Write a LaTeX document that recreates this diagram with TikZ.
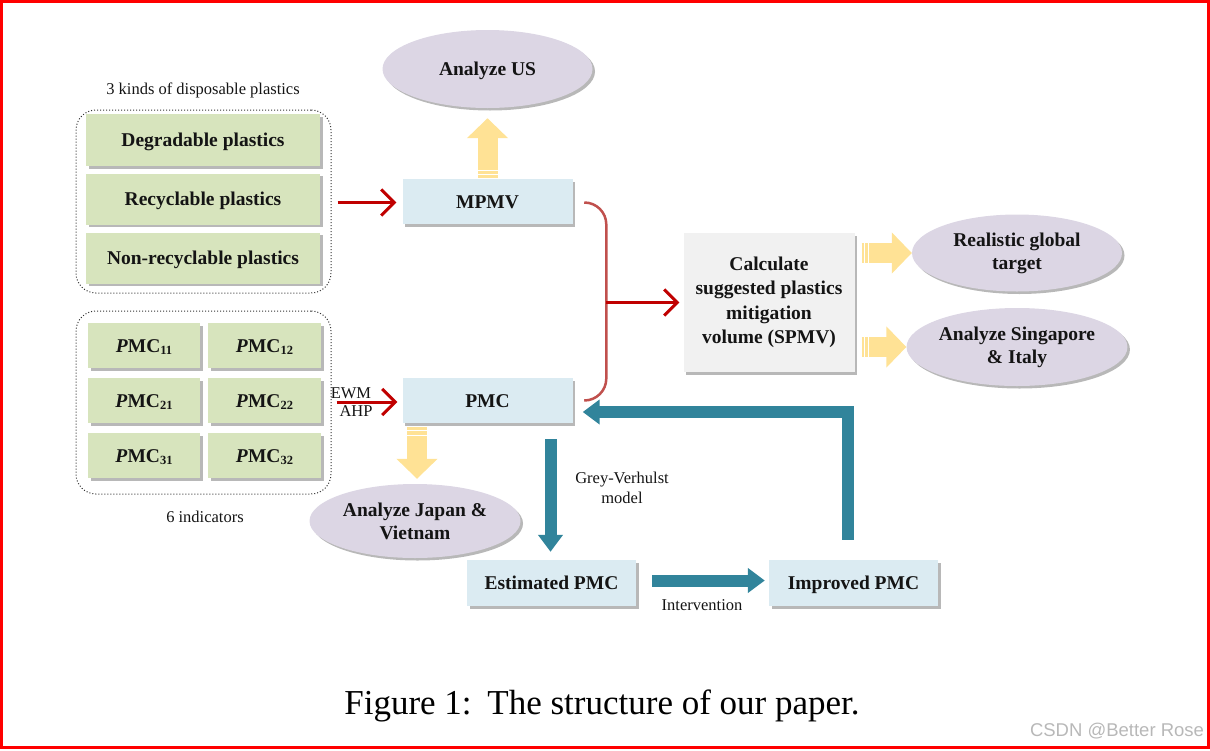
\documentclass[tikz,border=0pt]{standalone}
\usepackage{fontspec}
\setmainfont{Liberation Serif}
\newfontfamily\wmfont{Liberation Sans}
\usetikzlibrary{shapes.geometric,arrows.meta,shadows,calc}
\definecolor{cgreen}{HTML}{D7E4BD}
\definecolor{cblue}{HTML}{DBEBF2}
\definecolor{cgray}{HTML}{F1F1F1}
\definecolor{clav}{HTML}{DCD6E4}
\definecolor{cyel}{HTML}{FFE295}
\definecolor{cteal}{HTML}{31849B}
\definecolor{cdred}{HTML}{C00000}
\definecolor{cbrk}{HTML}{C0504D}
\definecolor{cframe}{HTML}{FF0000}
\newcommand{\pmclab}[1]{\textit{P}MC\raisebox{-0.3ex}{\fontsize{12.5}{12.5}\selectfont #1}}
\begin{document}
\begin{tikzpicture}[x=1pt,y=-1pt,
 every node/.style={text=black!92},
 bold/.style={font=\fontsize{19.5}{24.5}\selectfont\bfseries, align=center, inner sep=0pt},
 oneline/.style={text height=14pt, text depth=1pt},
 plain/.style={font=\fontsize{16.5}{20}\selectfont, align=center, inner sep=0pt},
 shd/.style={drop shadow={shadow xshift=2.5pt,shadow yshift=-2.5pt,fill=black,opacity=0.28}},
 gbox/.style={bold, oneline, shd, fill=cgreen},
 bbox/.style={bold, oneline, shd, fill=cblue, minimum width=170pt, minimum height=45pt},
 oval/.style={bold, font=\fontsize{19.5}{23}\selectfont\bfseries, shd, ellipse, fill=clav, minimum width=210pt, minimum height=78pt},
 frm/.style={draw=black!80, dotted, line width=1pt, rounded corners=20pt, minimum width=255pt, minimum height=183pt},
 yarrow/.style={draw=cyel, line width=20pt, -{Triangle[length=20pt,width=40pt]}},
 redarr/.style={draw=cdred, line width=3pt, -{Straight Barb[length=13pt,width=26pt]}},
 tealarr/.style={draw=cteal, line width=12pt, -{Triangle[length=17pt,width=24pt]}},
 stripe/.style={draw=white, line width=1.2pt}
]
\useasboundingbox (0,0) rectangle (1210,750);
\draw[cframe, line width=3pt] (1.5,1.5) rectangle (1208,747.5);

% left panels
\node[plain] (kindslab) at (203,90) {3 kinds of disposable plastics};
\node[frm] (kinds) at (203.5,201.5) {};
\node[gbox, minimum width=234pt, minimum height=52pt] (deg) at (203,140) {Degradable plastics};
\node[gbox, minimum width=234pt, minimum height=51pt] (rec) at (203,199) {Recyclable plastics};
\node[gbox, minimum width=234pt, minimum height=51pt] (non) at (203,258) {Non-recyclable plastics};

\node[frm] (ind) at (203.5,402.5) {};
\node[gbox, minimum width=112pt, minimum height=45pt] (p11) at (144,345.5) {\pmclab{11}};
\node[gbox, minimum width=113pt, minimum height=45pt] (p12) at (264.5,345.5) {\pmclab{12}};
\node[gbox, minimum width=112pt, minimum height=45pt] (p21) at (144,400.5) {\pmclab{21}};
\node[gbox, minimum width=113pt, minimum height=45pt] (p22) at (264.5,400.5) {\pmclab{22}};
\node[gbox, minimum width=112pt, minimum height=45pt] (p31) at (144,455.5) {\pmclab{31}};
\node[gbox, minimum width=113pt, minimum height=45pt] (p32) at (264.5,455.5) {\pmclab{32}};
\node[plain] (indlab) at (205,517) {6 indicators};

% middle boxes
\node[bbox] (MPMV) at (487.5,201.5) {MPMV};
\node[bbox] (PMC) at (487.5,400.5) {PMC};
\node[oval, oneline] (US) at (487.5,69) {Analyze US};
\node[oval, minimum width=211pt, minimum height=74pt] (JV) at (415,521) {Analyze Japan \&\\Vietnam};
\node[bold, shd, fill=cgray, minimum width=171pt, minimum height=139pt] (SPMV) at (769,302.5) {Calculate\\suggested plastics\\mitigation\\volume (SPMV)};
\node[oval, minimum height=77pt] (RG) at (1017,253) {Realistic global\\target};
\node[oval] (SI) at (1017,347) {Analyze Singapore\\\& Italy};
\node[bbox, minimum width=169pt, minimum height=46pt] (EST) at (551.5,583) {Estimated PMC};
\node[bbox, minimum width=169pt, minimum height=46pt] (IMP) at (853.5,583) {Improved PMC};

% red arrows
\draw[redarr] ($(kinds.east |- MPMV.west)+(6,1)$) -- ($(MPMV.west)+(-6,1)$);
\draw[redarr] ($(ind.east |- PMC.west)+(5,1.5)$) -- ($(PMC.west)+(-5,1.5)$);
\node[plain, anchor=south] (ewm) at (351,399) {EWM};
\node[plain, anchor=north] (ahp) at (356,405.5) {AHP};

% bracket
\coordinate (b1) at ($(MPMV.east)+(12,1)$);
\coordinate (b2) at ($(PMC.east)+(12,0)$);
\coordinate (bm) at ($(SPMV.west)+(-77,0)$);
\draw[cbrk, line width=2.5pt, rounded corners=22pt] (b1) -- (b1 -| bm) -- (b2 -| bm) -- (b2);
\draw[redarr] (bm) -- ($(SPMV.west)+(-4,0)$);

% yellow block arrows
\draw[yarrow] ($(MPMV.north)+(0,-1)$) -- ($(US.south)+(0,10)$);
\draw[stripe] ($(MPMV.north)+(-11,-4)$) -- ++(22,0);
\draw[stripe] ($(MPMV.north)+(-11,-8)$) -- ++(22,0);

\draw[yarrow] ($(PMC.south -| JV.north)+(2,4)$) -- ($(JV.north)+(2,-5)$);
\draw[stripe] ($(PMC.south -| JV.north)+(-8,7)$) -- ++(20,0);
\draw[stripe] ($(PMC.south -| JV.north)+(-8,12)$) -- ++(20,0);

\draw[yarrow] ($(SPMV.east |- RG.west)+(7,0)$) -- (RG.west);
\draw[stripe] ($(SPMV.east |- RG.west)+(10,-10)$) -- ++(0,20);
\draw[stripe] ($(SPMV.east |- RG.west)+(14,-10)$) -- ++(0,20);

\draw[yarrow] ($(SPMV.east |- SI.west)+(7,0)$) -- (SI.west);
\draw[stripe] ($(SPMV.east |- SI.west)+(10,-10)$) -- ++(0,20);
\draw[stripe] ($(SPMV.east |- SI.west)+(14,-10)$) -- ++(0,20);

% teal arrows
\draw[tealarr] ($(PMC.south -| EST.north)+(-1,16)$) -- ($(EST.north)+(-1,-8)$);
\node[plain] (gv) at (622,488) {Grey-Verhulst\\model};
\draw[tealarr] ($(EST.east)+(16,-2.5)$) -- ($(IMP.west)+(-4,-2.5)$);
\node[plain] (intv) at (702,605) {Intervention};
\coordinate (lp1) at ($(IMP.north)+(-5.5,-20)$);
\coordinate (lp2) at ($(PMC.east)+(10,11.5)$);
\draw[tealarr, line join=miter] (lp1) -- (lp1 |- lp2) -- (lp2);

% caption and watermark
\node[font=\fontsize{35}{40}\selectfont, inner sep=0pt, text=black] (cap) at (602,706) {Figure 1:\hspace{0.45em}The structure of our paper.};
\node[font=\wmfont\fontsize{18.5}{20}\selectfont, inner sep=0pt, text=black!28] (wm) at (1117,731) {CSDN @Better Rose};
\end{tikzpicture}
\end{document}
